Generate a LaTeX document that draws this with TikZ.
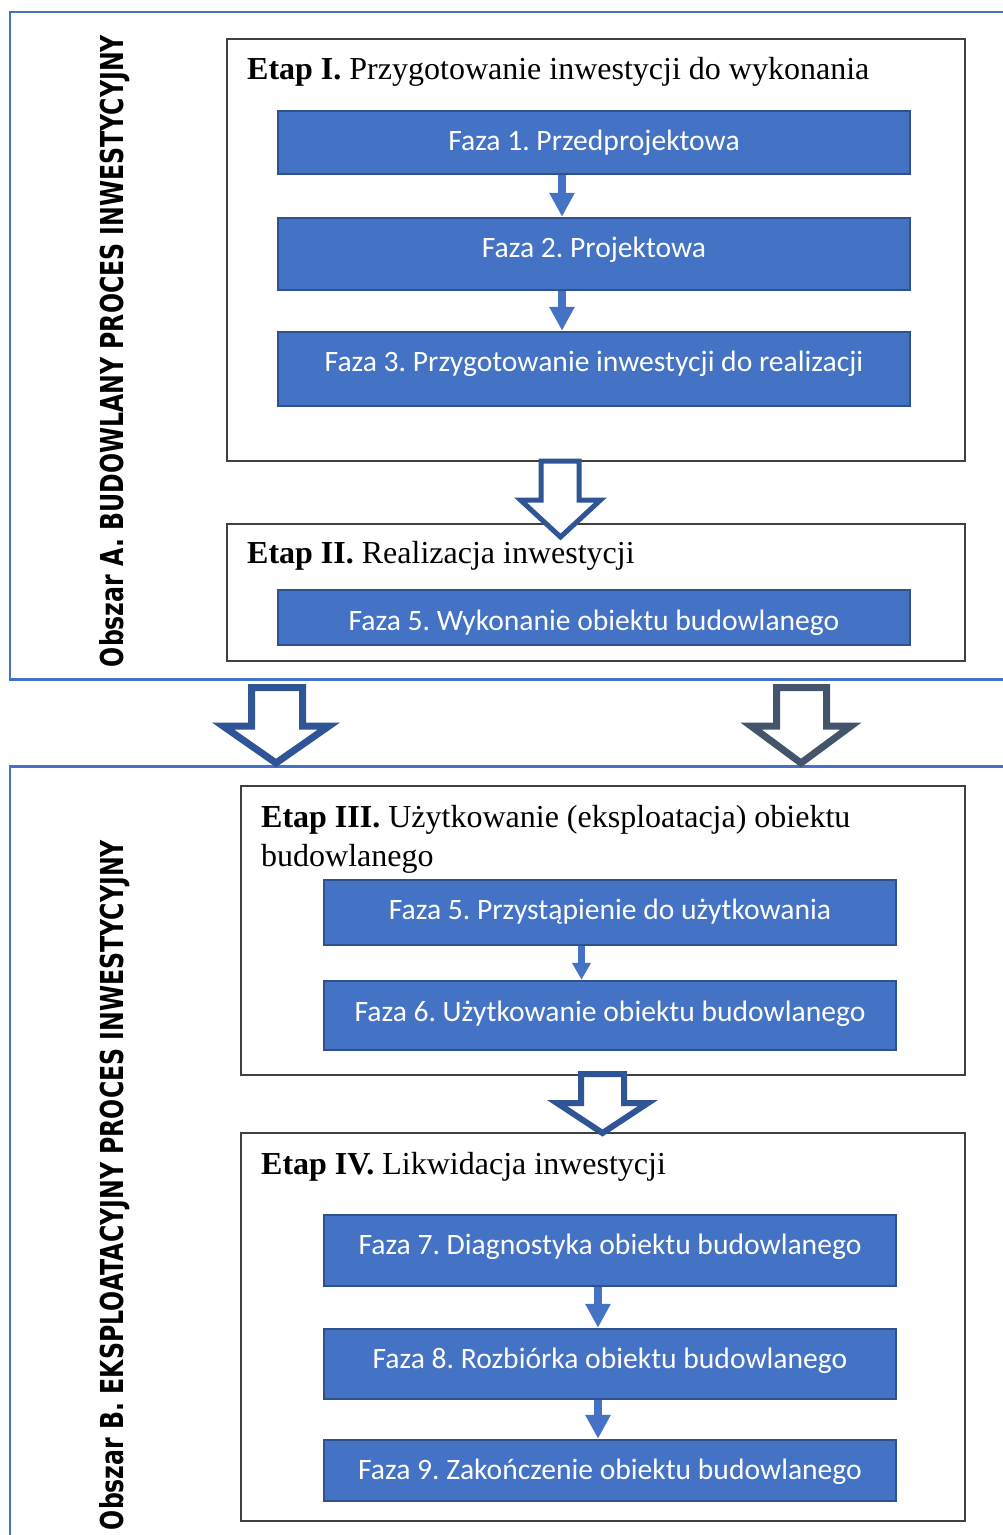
\documentclass[tikz,border=0pt]{standalone}
\usepackage{fontspec}
\usepackage{graphicx}
\setmainfont{Liberation Serif}
\newfontfamily\fazafont{Carlito}
\newfontfamily\obszarfont{DejaVu Sans}
\usetikzlibrary{arrows.meta}
\frenchspacing
\definecolor{fazablue}{HTML}{4472C4}
\definecolor{fazaedge}{HTML}{2F528F}
\definecolor{arrowblue}{HTML}{2F5597}
\definecolor{slateblue}{HTML}{44546A}
\newcommand\rz[2]{\raisebox{#1pt}[\height][\depth]{#2}}
\tikzset{
  faza/.style={draw=fazaedge, fill=fazablue, line width=2.5pt, text=white,
    font=\fazafont\frenchspacing\fontsize{29.6}{34}\selectfont, inner sep=0pt},
  fazaA/.style={faza, minimum width=632pt},
  fazaB/.style={faza, minimum width=572pt},
  etapbox/.style={draw=black!75, line width=1.5pt, inner sep=0pt},
  outerbox/.style={draw=fazablue, line width=2.5pt},
  smallarrow/.style={draw=fazablue, line width=8pt, -{Triangle[width=24pt,length=24pt]}},
  smallarrowB/.style={draw=fazablue, line width=7pt, -{Triangle[width=18pt,length=17pt]}},
  hollow/.style={draw=arrowblue, fill=white, line join=miter},
  etaptitle/.style={anchor=base west, inner sep=0pt, font=\frenchspacing\fontsize{32}{39}\selectfont},
  obszar/.style={rotate=90, inner sep=0pt}
}
\begin{document}
\begin{tikzpicture}[x=1pt,y=-1pt]
\useasboundingbox (0,0) rectangle (1003,1535);
\clip (0,0) rectangle (1003,1535);

% outer areas
\draw[outerbox] (10,12) rectangle (1020,679.5);
\draw[outerbox] (10,766.5) rectangle (1020,1550);

\node[obszar] (obszarA) at (115,351) {\resizebox{632pt}{24pt}{\obszarfont\bfseries Obszar A. BUDOWLANY PROCES INWESTYCYJNY}};
\node[obszar] (obszarB) at (115,1185) {\resizebox{690pt}{24pt}{\obszarfont\bfseries Obszar B. EKSPLOATACYJNY PROCES INWESTYCYJNY}};

% Etap boxes
\node[etapbox, minimum width=738pt, minimum height=422pt] (etap1) at (596,250) {};
\node[etapbox, minimum width=738pt, minimum height=137pt] (etap2) at (596,592.5) {};
\node[etapbox, minimum width=724pt, minimum height=289pt] (etap3) at (603,930.5) {};
\node[etapbox, minimum width=724pt, minimum height=388pt] (etap4) at (603,1327) {};

% titles
\node[etaptitle] (t1) at (247,79) {\textbf{Etap I.} Przygotowanie inwestycji do wykonania};
\node[etaptitle] (t2) at (247,563) {\textbf{Etap II.} Realizacja inwestycji};
\node[etaptitle] (t3a) at (261,827) {\textbf{Etap III.} Użytkowanie (eksploatacja) obiektu};
\node[etaptitle] (t3b) at (261,866) {budowlanego};
\node[etaptitle] (t4) at (261,1174) {\textbf{Etap IV.} Likwidacja inwestycji};

% Faza boxes (Obszar A)
\node[fazaA, minimum height=63pt] (f1) at (594,142.5) {\rz{-0.5}{Faza 1. Przedprojektowa}};
\node[fazaA, minimum height=72pt] (f2) at (594,254) {\rz{4}{Faza 2. Projektowa}};
\node[fazaA, minimum height=74pt] (f3) at (594,369) {\rz{5}{Faza 3. Przygotowanie inwestycji do realizacji}};
\node[fazaA, minimum height=55pt] (f5a) at (594,617.5) {\rz{-5}{Faza 5. Wykonanie obiektu budowlanego}};

% Faza boxes (Obszar B)
\node[fazaB, minimum height=65pt] (f5b) at (610,912.5) {\rz{0.5}{Faza 5. Przystąpienie do użytkowania}};
\node[fazaB, minimum height=69pt] (f6) at (610,1015.5) {\rz{1.5}{Faza 6. Użytkowanie obiektu budowlanego}};
\node[fazaB, minimum height=71pt] (f7) at (610,1250.5) {\rz{3.5}{Faza 7. Diagnostyka obiektu budowlanego}};
\node[fazaB, minimum height=70pt] (f8) at (610,1364) {\rz{3}{Faza 8. Rozbiórka obiektu budowlanego}};
\node[fazaB, minimum height=61pt] (f9) at (610,1470.5) {\rz{-1.5}{Faza 9. Zakończenie obiektu budowlanego}};

% small arrows
\draw[smallarrow] ([xshift=-32pt]f1.south) -- ([xshift=-32pt]f2.north);
\draw[smallarrow] ([xshift=-32pt]f2.south) -- ([xshift=-32pt]f3.north);
\draw[smallarrowB] ([xshift=-28.5pt]f5b.south) -- ([xshift=-28.5pt]f6.north);
\draw[smallarrow] ([xshift=-12pt]f7.south) -- ([xshift=-12pt]f8.north);
\draw[smallarrow] ([xshift=-12pt]f8.south) -- ([xshift=-12pt]f9.north);

% hollow block arrows
\draw[hollow, line width=5pt] (541,461) -- (579,461) -- (579,500) -- (600.5,500) -- (560.5,537) -- (520.5,500) -- (541,500) -- cycle;
\draw[hollow, line width=7pt] (251.5,687.5) -- (302.5,687.5) -- (302.5,726) -- (329,726) -- (276,763) -- (223,726) -- (251.5,726) -- cycle;
\draw[hollow, draw=slateblue, line width=7pt] (776.5,687.5) -- (826.5,687.5) -- (826.5,726) -- (851,726) -- (801,763) -- (751,726) -- (776.5,726) -- cycle;
\draw[hollow, line width=6pt] (581,1074) -- (624,1074) -- (624,1103) -- (648,1103) -- (602.5,1133) -- (557,1103) -- (581,1103) -- cycle;
\end{tikzpicture}
\end{document}
